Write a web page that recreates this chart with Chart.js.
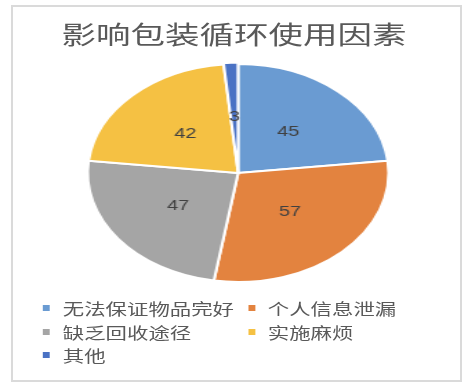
<!DOCTYPE html>
<html>
<head>
<meta charset="utf-8">
<script src="https://cdn.jsdelivr.net/npm/chart.js@4"></script>
<style>
  html, body { margin: 0; padding: 0; background: #fff; }
  body { width: 468px; height: 385px; position: relative; overflow: hidden; }
  #frame { position: absolute; left: 11px; top: 5px; width: 447px; height: 373px; border: 2px solid #dadada; }
  /* the reference is a horizontally stretched picture, so everything is stretched the same way */
  #wrap { position: absolute; left: 0; top: 0; width: 339px; height: 385px; transform: scaleX(1.3805); transform-origin: 0 0; }
  #title { position: absolute; left: 0; width: 339px; top: 18px; text-align: center; font: 25px "Noto Sans CJK SC", sans-serif; color: #595959; line-height: 30px; }
  #pieBox { position: absolute; left: 0; top: 50px; width: 339px; height: 246px; }
  .item { position: absolute; font: 15.5px "Noto Sans CJK SC", sans-serif; color: #595959; line-height: 20px; white-space: nowrap; }
  .item i { position: absolute; left: -14.5px; top: 7px; width: 5px; height: 6px; }
</style>
</head>
<body>
<div id="frame"></div>
<div id="wrap">
  <div id="title">影响包装循环使用因素</div>
  <div id="pieBox"><canvas id="pieChart" width="339" height="246"></canvas></div>
  <div id="legend"></div>
</div>
<script>
// === 影响包装循环使用因素 pie ===

const labels = ['无法保证物品完好', '个人信息泄漏', '缺乏回收途径', '实施麻烦', '其他'];
const values = [45, 57, 47, 42, 3];
const colors = ['#6A9BD2', '#E3833F', '#A5A5A5', '#F5C143', '#4A72C4'];

// legend slots (left, center y) in unstretched coords
const legendSlots = [[45.5, 308], [194, 308], [45.5, 332], [194, 332], [45.5, 355]];

const legendEl = document.getElementById('legend');
labels.forEach((name, i) => {
    const div = document.createElement('div');
    div.className = 'item';
    div.style.left = legendSlots[i][0] + 'px';
    div.style.top = (legendSlots[i][1] - 10) + 'px';
    div.innerHTML = '<i style="background:' + colors[i] + '"></i>' + name;
    legendEl.appendChild(div);
});

const valueLabels = {
    id: 'valueLabels',
    afterDatasetsDraw(chart) {
        const ctx = chart.ctx;
        const meta = chart.getDatasetMeta(0);
        ctx.save();
        ctx.font = '14.5px "Liberation Sans", sans-serif';
        ctx.fillStyle = '#404040';
        ctx.textAlign = 'center';
        ctx.textBaseline = 'middle';
        meta.data.forEach((arc, i) => {
            const p = arc.tooltipPosition();
            ctx.fillText(String(values[i]), p.x, p.y);
        });
        ctx.restore();
    }
};

new Chart(document.getElementById('pieChart').getContext('2d'), {
    type: 'pie',
    data: {
        labels: labels,
        datasets: [{
            data: values,
            backgroundColor: colors,
            borderColor: '#ffffff',
            borderWidth: 2,
            offset: [0, 0, 0, 0, 3]
        }]
    },
    options: {
        responsive: false,
        animation: false,
        radius: 109,
        layout: { padding: { left: 6 } },
        plugins: {
            legend: { display: false },
            tooltip: { enabled: false }
        }
    },
    plugins: [valueLabels]
});
</script>
</body>
</html>
